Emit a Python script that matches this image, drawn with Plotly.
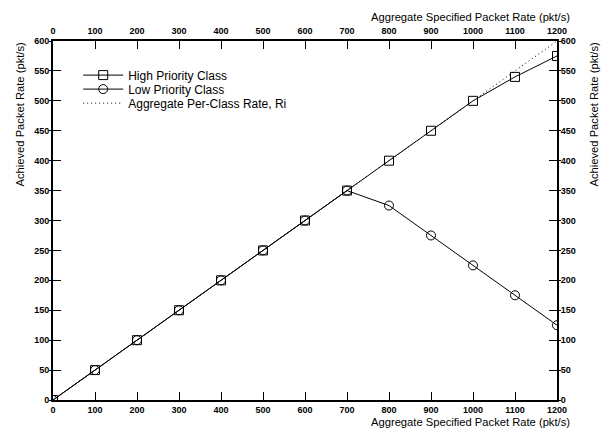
import plotly.graph_objects as go

rate = [0, 100, 200, 300, 400, 500, 600, 700, 800, 900, 1000, 1100, 1200]
high = [0, 50, 100, 150, 200, 250, 300, 350, 400, 450, 500, 540, 575]
low = [0, 50, 100, 150, 200, 250, 300, 350, 325, 275, 225, 175, 125]
agg_x = [0, 1200]
agg_y = [0, 600]
x_ticks = list(range(0, 1201, 100))
y_ticks = list(range(0, 601, 50))

FONT = "Liberation Sans, Arial, Helvetica, sans-serif"

fig = go.Figure()
fig.add_trace(go.Scatter(x=rate, y=high, mode="lines+markers", name="High Priority Class",
                         legend="legend",
                         line=dict(color="black", width=1),
                         marker=dict(symbol="square-open", size=9, color="black", line=dict(width=1))))
fig.add_trace(go.Scatter(x=rate, y=low, mode="lines+markers", name="Low Priority Class",
                         legend="legend2",
                         line=dict(color="black", width=1),
                         marker=dict(symbol="circle-open", size=9, color="black", line=dict(width=1))))
fig.add_trace(go.Scatter(x=agg_x, y=agg_y, mode="lines", name="Aggregate Per-Class Rate, Ri",
                         legend="legend3",
                         line=dict(color="black", width=1, dash="1px,3px")))

tickfont = dict(family=FONT, size=9, color="black", weight="bold")
common_x = dict(range=[0, 1200], tickvals=x_ticks, showgrid=False, zeroline=False,
                showline=True, linecolor="black", linewidth=2, ticks="inside", ticklen=8,
                tickwidth=1, tickcolor="black", tickfont=tickfont)
common_y = dict(range=[0, 600], tickvals=y_ticks, showgrid=False, zeroline=False,
                showline=True, linecolor="black", linewidth=2, ticks="inside", ticklen=8,
                tickwidth=1, tickcolor="black", tickfont=tickfont)

def leg(y):
    return dict(x=0.05, y=y, xanchor="left", yanchor="middle", bgcolor="rgba(0,0,0,0)",
                font=dict(family=FONT, size=12, color="black"), itemwidth=40)

fig.update_layout(
    width=599, height=425,
    margin=dict(l=45, r=50, t=33, b=33),
    paper_bgcolor="white", plot_bgcolor="white",
    font=dict(family=FONT, size=11, color="black"),
    showlegend=True,
    legend=leg(0.905),
    legend2=leg(0.866),
    legend3=leg(0.827),
    xaxis=dict(**common_x, side="bottom", ticklabelstandoff=0),
    xaxis2=dict(**common_x, side="top", overlaying="x", anchor="y", ticklabelstandoff=1),
    yaxis=dict(**common_y, side="left"),
    yaxis2=dict(**common_y, side="right", overlaying="y", anchor="x"),
    yaxis3=dict(range=[0, 600], tickvals=y_ticks, showgrid=False, zeroline=False, showline=False,
                ticks="outside", ticklen=3, tickwidth=1, tickcolor="black", showticklabels=False,
                side="left", overlaying="y", anchor="x"),
    yaxis4=dict(range=[0, 600], tickvals=y_ticks, showgrid=False, zeroline=False, showline=False,
                ticks="outside", ticklen=3, tickwidth=1, tickcolor="black", showticklabels=False,
                side="right", overlaying="y", anchor="x"),
)

# invisible helper traces so the extra axes are drawn
fig.add_trace(go.Scatter(x=[0], y=[0], xaxis="x2", yaxis="y2", mode="markers",
                         marker=dict(opacity=0), showlegend=False, hoverinfo="skip"))
fig.add_trace(go.Scatter(x=[0], y=[0], yaxis="y3", mode="markers",
                         marker=dict(opacity=0), showlegend=False, hoverinfo="skip"))
fig.add_trace(go.Scatter(x=[0], y=[0], yaxis="y4", mode="markers",
                         marker=dict(opacity=0), showlegend=False, hoverinfo="skip"))

title = "Aggregate Specified Packet Rate (pkt/s)"
ytitle = "Achieved Packet Rate (pkt/s)"
fig.add_annotation(text=title, xref="paper", yref="paper", x=1.03, y=0, xanchor="right",
                   yanchor="top", yshift=-14, showarrow=False, font=dict(size=11.2))
fig.add_annotation(text=title, xref="paper", yref="paper", x=1.03, y=1, xanchor="right",
                   yanchor="bottom", yshift=16, showarrow=False, font=dict(size=11.2))
fig.add_annotation(text=ytitle, xref="paper", yref="paper", x=0, y=1.0, xanchor="center",
                   yanchor="top", xshift=-34, yshift=1, textangle=-90, showarrow=False,
                   font=dict(size=11.2))
fig.add_annotation(text=ytitle, xref="paper", yref="paper", x=1, y=1.0, xanchor="center",
                   yanchor="top", xshift=36, yshift=1, textangle=-90, showarrow=False,
                   font=dict(size=11.2))

fig.write_html("out.html")
